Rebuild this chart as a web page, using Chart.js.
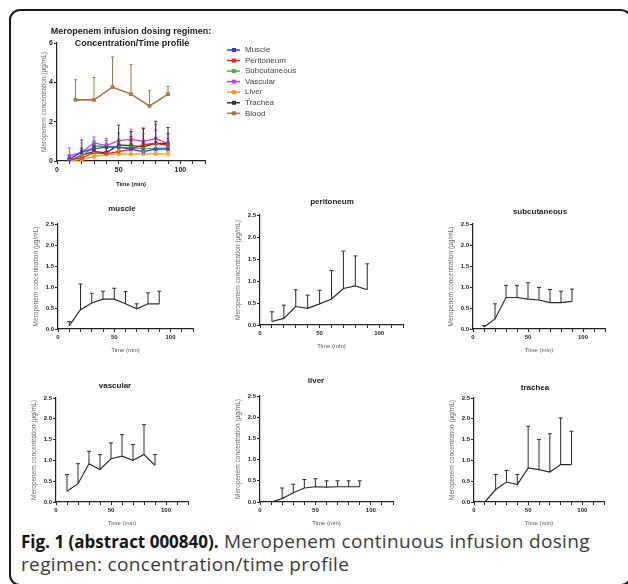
<!DOCTYPE html>
<html>
<head>
<meta charset="utf-8">
<script src="https://cdn.jsdelivr.net/npm/chart.js@4.4.1/dist/chart.umd.min.js"></script>
<style>
  body { margin: 0; width: 628px; height: 584px; overflow: hidden; background: #fff; position: relative; }
  .frame { position: absolute; left: 9px; top: 9px; width: 619px; height: 573px; border: 2px solid #1a1a1a; border-radius: 11px; }
  canvas { position: absolute; }
  .caption { position: absolute; left: 21px; top: 530px; width: 590px; font-family: "Open Sans", sans-serif; font-size: 19px; letter-spacing: 0.35px; line-height: 22px; color: #3a3a3a; }
  .caption b { color: #151515; font-weight: 700; font-size: 17px; letter-spacing: 0; }
</style>
</head>
<body>
<div class="frame"></div>
<div class="caption"><b>Fig. 1 (abstract 000840).</b> Meropenem continuous infusion dosing regimen: concentration/time profile</div>

<script>
// --- Data ---
const times = [10, 20, 30, 40, 50, 60, 70, 80, 90];
const bloodTimes = [15, 30, 45, 60, 75, 90];

const muscleMean = [0.08, 0.46, 0.62, 0.71, 0.71, 0.60, 0.48, 0.60, 0.60];
const muscleSD   = [0.10, 0.61, 0.23, 0.19, 0.26, 0.29, 0.12, 0.26, 0.30];

const peritoneumMean = [0.08, 0.15, 0.42, 0.38, 0.48, 0.59, 0.83, 0.89, 0.80];
const peritoneumSD   = [0.22, 0.30, 0.38, 0.30, 0.31, 0.65, 0.85, 0.68, 0.59];

const subcutaneousMean = [0.05, 0.24, 0.75, 0.75, 0.71, 0.69, 0.63, 0.63, 0.66];
const subcutaneousSD   = [0.03, 0.36, 0.29, 0.29, 0.39, 0.30, 0.31, 0.27, 0.29];

const vascularMean = [0.26, 0.44, 0.92, 0.78, 1.04, 1.10, 1.00, 1.14, 0.88];
const vascularSD   = [0.40, 0.48, 0.30, 0.36, 0.38, 0.52, 0.38, 0.72, 0.26];

const liverMean = [0.00, 0.08, 0.22, 0.33, 0.36, 0.35, 0.36, 0.36, 0.36];
const liverSD   = [0.00, 0.25, 0.20, 0.20, 0.19, 0.15, 0.14, 0.14, 0.14];

const tracheaMean = [0.00, 0.30, 0.48, 0.42, 0.82, 0.78, 0.72, 0.90, 0.90];
const tracheaSD   = [0.00, 0.36, 0.28, 0.24, 1.00, 0.72, 0.92, 1.12, 0.80];

const bloodMean = [3.11, 3.11, 3.76, 3.40, 2.80, 3.40];
const bloodSD   = [1.02, 1.14, 1.53, 1.50, 0.79, 0.39];

const yTitle = 'Meropenem concentration (µg/mL)';
const xTitle = 'Time (min)';

Chart.defaults.font.family = '"Liberation Sans", Arial, sans-serif';
Chart.defaults.color = '#222';

const toPoints = (xs, ys) => xs.map((t, i) => ({ x: t, y: ys[i] }));

// --- Plugins ---
const errorBars = {
    id: 'errorBars',
    afterDatasetsDraw(chart, args, opts) {
        const { ctx, scales: { x, y } } = chart;
        chart.data.datasets.forEach((ds) => {
            if (!ds.sd) return;
            ctx.save();
            ctx.strokeStyle = ds.borderColor;
            ctx.lineWidth = opts.width;
            ds.data.forEach((p, i) => {
                const s = ds.sd[i];
                if (!s) return;
                const px = x.getPixelForValue(p.x);
                const py = y.getPixelForValue(p.y);
                const pt = y.getPixelForValue(p.y + s);
                ctx.beginPath();
                ctx.moveTo(px, py);
                ctx.lineTo(px, pt);
                ctx.moveTo(px - opts.cap, pt);
                ctx.lineTo(px + opts.cap, pt);
                ctx.stroke();
            });
            ctx.restore();
        });
    }
};

const panelTitle = {
    id: 'panelTitle',
    afterDraw(chart, args, opts) {
        const { ctx } = chart;
        ctx.save();
        ctx.font = opts.font;
        ctx.fillStyle = '#1a1a1a';
        ctx.textAlign = 'center';
        ctx.textBaseline = 'middle';
        opts.lines.forEach((l) => ctx.fillText(l.text, l.x, l.y));
        ctx.restore();
    }
};

const sideLegend = {
    id: 'sideLegend',
    afterDraw(chart, args, opts) {
        if (!opts.show) return;
        const { ctx, chartArea: a } = chart;
        ctx.save();
        ctx.font = '8px "Liberation Sans", Arial, sans-serif';
        ctx.textBaseline = 'middle';
        chart.data.datasets.forEach((ds, i) => {
            const y = a.top + opts.top + i * opts.gap;
            const x = a.right + opts.left;
            ctx.strokeStyle = ds.borderColor;
            ctx.lineWidth = 1.5;
            ctx.beginPath();
            ctx.moveTo(x, y);
            ctx.lineTo(x + 13, y);
            ctx.stroke();
            ctx.fillStyle = ds.borderColor;
            ctx.fillRect(x + 5, y - 2, 4, 4);
            ctx.fillStyle = '#444';
            ctx.fillText(ds.label, x + 18, y);
        });
        ctx.restore();
    }
};

// --- Chart factory ---
function makePanel(cfg) {
    const pad = cfg.pad;
    const w = cfg.plot.r - cfg.plot.l + pad.l + pad.r;
    const h = cfg.plot.b - cfg.plot.t + pad.t + pad.b;
    const left = cfg.plot.l - pad.l;
    const top = cfg.plot.t - pad.t;
    const canvas = document.createElement('canvas');
    canvas.width = w;
    canvas.height = h;
    canvas.style.left = left + 'px';
    canvas.style.top = top + 'px';
    canvas.style.width = w + 'px';
    canvas.style.height = h + 'px';
    document.body.appendChild(canvas);

    const axisGrid = { display: true, drawOnChartArea: false, drawTicks: true, tickLength: 3, color: '#222', lineWidth: 1 };
    const axisBorder = { display: true, color: '#222', width: 1.2 };

    new Chart(canvas.getContext('2d'), {
        type: 'line',
        data: { datasets: cfg.datasets },
        options: {
            responsive: false,
            animation: false,
            devicePixelRatio: 1,
            layout: { padding: { top: pad.t, right: pad.r, left: 0, bottom: 0 } },
            scales: {
                x: {
                    type: 'linear', min: 0, max: 120,
                    afterFit: (s) => { s.height = pad.b; },
                    grid: axisGrid, border: axisBorder,
                    ticks: {
                        stepSize: 10, autoSkip: false, maxRotation: 0, padding: 2,
                        font: { size: cfg.tickSize, weight: 'bold' }, color: '#222',
                        callback: (v) => (v % 50 === 0 ? v : '')
                    },
                    title: { display: true, text: xTitle, font: { size: cfg.xTitleSize, weight: cfg.xTitleWeight }, color: cfg.xTitleColor, padding: { top: 0, bottom: 1 } }
                },
                y: {
                    min: 0, max: cfg.yMax,
                    afterFit: (s) => { s.width = pad.l; },
                    grid: axisGrid, border: axisBorder,
                    ticks: {
                        stepSize: cfg.yStep, padding: 1,
                        font: { size: cfg.tickSize, weight: 'bold' }, color: '#222',
                        callback: cfg.yFormat
                    },
                    title: { display: true, text: yTitle, font: { size: cfg.yTitleSize }, color: '#666', padding: { top: 0, bottom: 0 } }
                }
            },
            plugins: {
                legend: { display: false },
                tooltip: { enabled: false },
                errorBars: { width: 1, cap: cfg.cap },
                panelTitle: {
                    font: cfg.titleFont,
                    lines: cfg.titles.map((t) => ({ text: t.text, x: t.x - left, y: t.y - top }))
                },
                sideLegend: cfg.legend || { show: false }
            }
        },
        plugins: [errorBars, panelTitle, sideLegend]
    });
}

const smallSeries = (label, mean, sd) => [{
    label, data: toPoints(times, mean), sd,
    borderColor: '#2a2a2a', borderWidth: 1.2, pointRadius: 0, tension: 0, fill: false
}];

const colourSeries = (label, xs, mean, sd, colour, width) => ({
    label, data: toPoints(xs, mean), sd,
    borderColor: colour, backgroundColor: colour, borderWidth: width || 1.3,
    pointRadius: 1.5, pointStyle: 'rect', tension: 0, fill: false
});

// --- Overview panel ---
makePanel({
    plot: { l: 57, t: 43, r: 205, b: 161 },
    pad: { l: 17, r: 100, t: 25, b: 28 },
    yMax: 6, yStep: 2, yFormat: (v) => v,
    tickSize: 7, xTitleSize: 6, xTitleWeight: 'bold', xTitleColor: '#222', yTitleSize: 6.5,
    cap: 1.5,
    titleFont: 'bold 9px "Liberation Sans", Arial, sans-serif',
    titles: [
        { text: 'Meropenem infusion dosing regimen:', x: 131, y: 31.5 },
        { text: 'Concentration/Time profile', x: 132, y: 44 }
    ],
    legend: { show: true, top: 7, gap: 10.55, left: 22 },
    datasets: [
        colourSeries('Muscle', times, muscleMean, muscleSD, '#2b3cf0'),
        colourSeries('Peritoneum', times, peritoneumMean, peritoneumSD, '#ee2222'),
        colourSeries('Subcutaneous', times, subcutaneousMean, subcutaneousSD, '#33bb33'),
        colourSeries('Vascular', times, vascularMean, vascularSD, '#c040f0'),
        colourSeries('Liver', times, liverMean, liverSD, '#ff9a1a'),
        colourSeries('Trachea', times, tracheaMean, tracheaSD, '#333333'),
        colourSeries('Blood', bloodTimes, bloodMean, bloodSD, '#a57a45', 1.6)
    ]
});

// --- Individual tissue panels ---
const smallPanels = [
    { title: 'muscle', mean: muscleMean, sd: muscleSD, plot: { l: 58, t: 224, r: 193, b: 329 }, tx: 122, ty: 209 },
    { title: 'peritoneum', mean: peritoneumMean, sd: peritoneumSD, plot: { l: 260, t: 215, r: 403, b: 325 }, tx: 332, ty: 202 },
    { title: 'subcutaneous', mean: subcutaneousMean, sd: subcutaneousSD, plot: { l: 473, t: 224, r: 605, b: 329 }, tx: 540, ty: 212 },
    { title: 'vascular', mean: vascularMean, sd: vascularSD, plot: { l: 56, t: 398, r: 188, b: 502 }, tx: 115, ty: 386 },
    { title: 'liver', mean: liverMean, sd: liverSD, plot: { l: 260, t: 396, r: 393, b: 502 }, tx: 316, ty: 381 },
    { title: 'trachea', mean: tracheaMean, sd: tracheaSD, plot: { l: 474, t: 398, r: 604, b: 502 }, tx: 535, ty: 388 }
];

smallPanels.forEach((p) => {
    makePanel({
        plot: p.plot,
        pad: { l: 26, r: 8, t: 22, b: 26 },
        yMax: 2.5, yStep: 0.5, yFormat: (v) => v.toFixed(1),
        tickSize: 6, xTitleSize: 6, xTitleWeight: 'normal', xTitleColor: '#555', yTitleSize: 6.5,
        cap: 2,
        titleFont: 'bold 8px "Liberation Sans", Arial, sans-serif',
        titles: [{ text: p.title, x: p.tx, y: p.ty }],
        datasets: smallSeries(p.title, p.mean, p.sd)
    });
});
</script>
</body>
</html>
